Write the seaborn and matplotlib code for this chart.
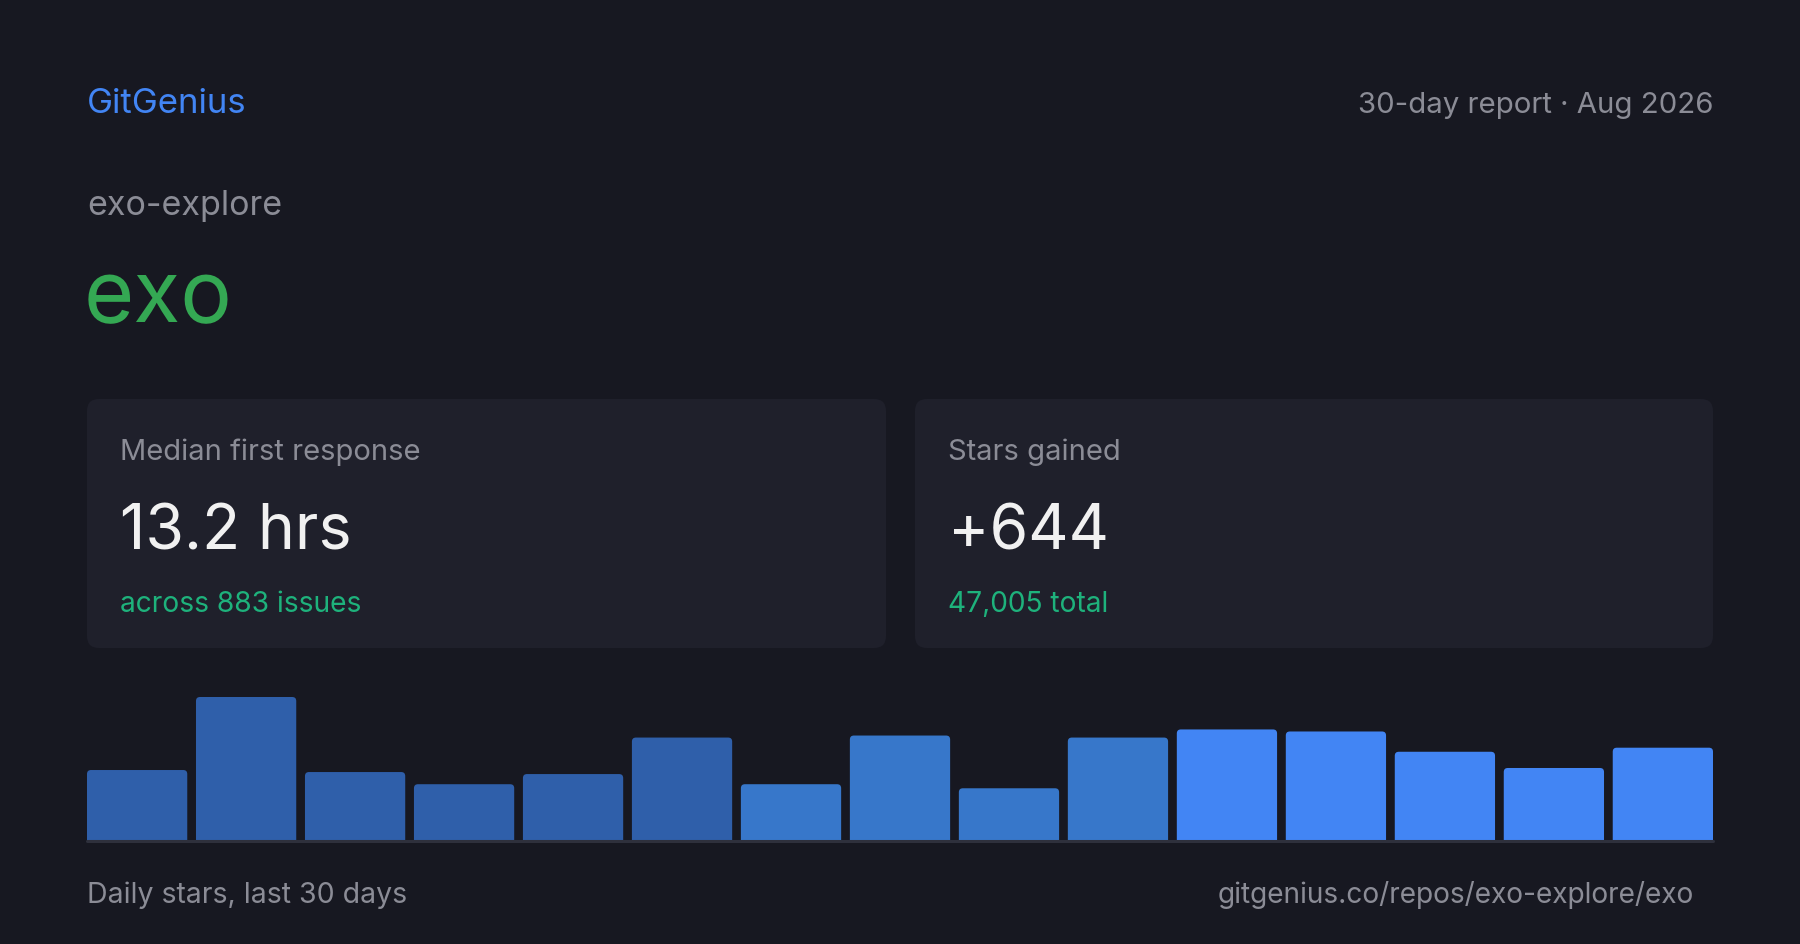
import pandas as pd
import seaborn as sns
import matplotlib.pyplot as plt
from matplotlib.patches import FancyBboxPatch

# dados do card
brand = "GitGenius"
report_label = "30-day report · Aug 2026"
owner = "exo-explore"
repo = "exo"
card_titles = ["Median first response", "Stars gained"]
card_values = ["13.2 hrs", "+644"]
card_notes = ["across 883 issues", "47,005 total"]
footer_left = "Daily stars, last 30 days"
footer_right = "gitgenius.co/repos/exo-explore/exo"

# estrelas por barra (15 barras)
periods = list(range(1, 16))
stars = [35, 71, 34, 28, 33, 51, 28, 52, 26, 51, 55, 54, 44, 36, 46]
groups = ["a"] * 6 + ["b"] * 4 + ["c"] * 5

# cores
BG = "#171821"
CARD = "#1f202b"
GRAY = "#8b8c96"
WHITE = "#f1f1f1"
BLUE = "#4285f4"
GREEN = "#34a853"
TEAL = "#1eb27c"
group_colors = {"a": "#2f5faa", "b": "#3777ca", "c": "#4285f4"}

sns.set_theme(style="dark")
plt.rcParams['font.family'] = ['Inter', 'DejaVu Sans']

W, H = 1800, 945
fig = plt.figure(figsize=(18, 9.45), dpi=100)
fig.patch.set_facecolor(BG)

# camada de fundo em coordenadas de pixel
bg = fig.add_axes([0, 0, 1, 1])
bg.set_xlim(0, W)
bg.set_ylim(H, 0)
bg.axis('off')
bg.set_facecolor(BG)

bg.text(87, 113, brand, color=BLUE, fontsize=25, va='baseline', ha='left')
bg.text(1713, 113, report_label, color=GRAY, fontsize=21.2, va='baseline', ha='right')
bg.text(87, 215, owner, color=GRAY, fontsize=24.5, va='baseline', ha='left')
bg.text(84, 322, repo, color=GREEN, fontsize=62, va='baseline', ha='left')

cards_x = [(87, 886), (915, 1713)]
for (x0, x1), t, v, n in zip(cards_x, card_titles, card_values, card_notes):
    box = FancyBboxPatch((x0, 400), x1 - x0, 249,
                         boxstyle="round,pad=0,rounding_size=12",
                         facecolor=CARD, edgecolor='none')
    bg.add_patch(box)
    bg.text(x0 + 33, 460, t, color=GRAY, fontsize=21, va='baseline')
    bg.text(x0 + 33, 550, v, color=WHITE, fontsize=45, va='baseline')
    bg.text(x0 + 33, 612, n, color=TEAL, fontsize=20.3, va='baseline')

bg.text(87, 903, footer_left, color=GRAY, fontsize=20.5, va='baseline')
bg.text(1694, 903, footer_right, color=GRAY, fontsize=20.2, va='baseline', ha='right')

# gráfico de barras
df = pd.DataFrame({"periodo": periods, "estrelas": stars, "grupo": groups})
ax = fig.add_axes([87 / W, (H - 842) / H, 1626 / W, 144 / H])
sns.barplot(data=df, x="periodo", y="estrelas", hue="grupo", palette=group_colors,
            dodge=False, legend=False, width=0.92, saturation=1, linewidth=0, ax=ax)
ax.set_xlim(-0.46, len(stars) - 0.54)
ax.set_ylim(0, max(stars))

# cantos arredondados no topo das barras
px_x = 1626 / (len(stars) - 0.08)
px_y = 144 / max(stars)
raio = 4 / px_x
for p in list(ax.patches):
    x, w, h = p.get_x(), p.get_width(), p.get_height()
    rb = FancyBboxPatch((x, -5), w, h + 5,
                        boxstyle=f"round,pad=0,rounding_size={raio}",
                        mutation_aspect=px_x / px_y,
                        facecolor=p.get_facecolor(), edgecolor='none')
    p.remove()
    ax.add_patch(rb)

ax.axhline(0, color="#2e303c", linewidth=2.2, clip_on=False, zorder=5)
ax.set_facecolor(BG)
ax.axis('off')

plt.savefig("out.png", dpi=100, facecolor=BG)
